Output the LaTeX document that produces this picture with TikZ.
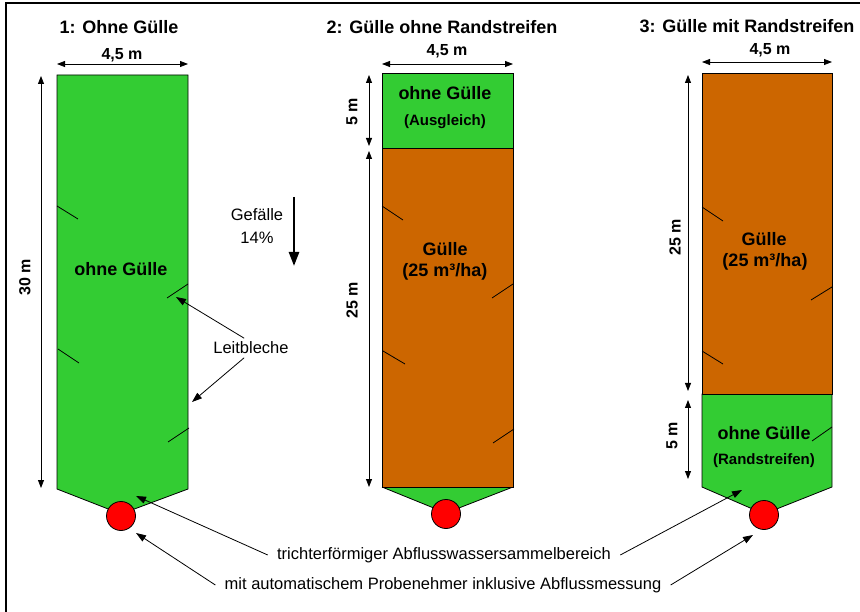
\documentclass[tikz,border=0pt]{standalone}
\usepackage{fontspec}
\setmainfont{Liberation Sans}
\usetikzlibrary{arrows.meta}
\definecolor{wiese}{HTML}{33CC33}
\definecolor{guelle}{HTML}{CC6600}
\definecolor{schacht}{HTML}{FF0000}
\tikzset{
  fett/.style={font=\bfseries\fontsize{18}{21}\selectfont},
  klein/.style={font=\bfseries\fontsize{15}{18}\selectfont},
  mass/.style={font=\bfseries\fontsize{16}{19}\selectfont},
  normal/.style={font=\fontsize{16.5}{23}\selectfont},
}
\begin{document}
\begin{tikzpicture}[x=1pt,y=-1pt,line width=0.8pt]
\useasboundingbox (0,0) rectangle (860,612);
\draw[line width=1.5pt] (6,612) -- (6,3) -- (860,3);
\draw[fill=wiese] (57,75) -- (188,75) -- (188,489) -- (121,514) -- (57,489) -- cycle;
\fill[wiese] (382,487) -- (513,487) -- (446,513) -- cycle;
\draw (382,487) -- (446,513) -- (513,487);
\draw[fill=guelle] (382,148) rectangle (513,487);
\draw[fill=wiese] (382,73) rectangle (513,148);
\draw[fill=wiese] (702,394) -- (832,394) -- (832,487) -- (764,514) -- (702,487) -- cycle;
\draw[fill=guelle] (702,73) rectangle (832,394);
\draw (57,206) -- (78,219);
\draw (188,284) -- (167,298);
\draw (58,349) -- (79,363);
\draw (189,428) -- (168,442);
\draw (382,206) -- (403,220);
\draw (513,284) -- (492,298);
\draw (383,351) -- (405,364);
\draw (514,429) -- (493,443);
\draw (702,207) -- (723,221);
\draw (832,287) -- (811,300);
\draw (702,351) -- (723,364);
\draw (832,427) -- (812,441);
\begin{scope}[every node/.style={circle,draw,fill=schacht,minimum size=29pt,inner sep=0pt}]
	\node (s1) at (121,516) {};
	\node (s2) at (446,514) {};
	\node (s3) at (764,515) {};
\end{scope}
\coordinate (b1l) at (57,64);
\coordinate (b1r) at (188,64);
\coordinate (h1o) at (41,76);
\coordinate (h1u) at (41,488);
\coordinate (b2l) at (382,64);
\coordinate (b2r) at (513,64);
\coordinate (a2o) at (369,75);
\coordinate (a2u) at (369,146);
\coordinate (l2o) at (369,151);
\coordinate (l2u) at (369,487);
\coordinate (b3l) at (702,62);
\coordinate (b3r) at (832,62);
\coordinate (l3o) at (688,75);
\coordinate (l3u) at (688,391);
\coordinate (a3o) at (688,400);
\coordinate (a3u) at (688,479);
\coordinate (gf1) at (294,197);
\coordinate (gf2) at (294,266);
\coordinate (lb1) at (176,297);
\coordinate (lb2) at (192,402);
\coordinate (tr1) at (136,496);
\coordinate (tr3) at (742,490);
\coordinate (pn1) at (136,533);
\coordinate (pn3) at (753,535);
\begin{scope}[every node/.style={fett}]
	\node (t1) at (119,27) {1: Ohne Gülle};
	\node (t2) at (442,27) {2: Gülle ohne Randstreifen};
	\node (t3) at (747,26) {3: Gülle mit Randstreifen};
	\node (o1) at (121,269) {ohne Gülle};
	\node (o2) at (445,93) {ohne Gülle};
	\node (o3) at (764,433) {ohne Gülle};
	\node (g2) at (445,249) {Gülle};
	\node (m2) at (445,272) {(25 m³/ha)};
	\node (g3) at (764,239) {Gülle};
	\node (m3) at (765,262) {(25 m³/ha)};
\end{scope}
\begin{scope}[every node/.style={klein}]
	\node (z2) at (445,122) {(Ausgleich)};
	\node (z3) at (764,461) {(Randstreifen)};
\end{scope}
\begin{scope}[every node/.style={mass}]
	\node (w1) at (122,55) {4,5 m};
	\node (w2) at (447,51) {4,5 m};
	\node (w3) at (770,50) {4,5 m};
	\node[rotate=90] (d1) at (25,277) {30 m};
	\node[rotate=90] (d2a) at (352,112) {5 m};
	\node[rotate=90] (d2b) at (352,300) {25 m};
	\node[rotate=90] (d3a) at (675,237) {25 m};
	\node[rotate=90] (d3b) at (672,436) {5 m};
\end{scope}
\begin{scope}[every node/.style={normal}]
	\node[align=center] (gef) at (257,226) {Gefälle\\14\%};
	\node (lb) at (251,348) {Leitbleche};
	\node[inner xsep=9pt] (tri) at (444,555) {trichterförmiger Abflusswassersammelbereich};
	\node[inner xsep=9pt] (prob) at (443,585) {mit automatischem Probenehmer inklusive Abflussmessung};
\end{scope}
\begin{scope}[>={Triangle[length=8pt,width=6pt]}, every edge/.style={draw=black,line width=0.8pt}]
	\path [<->] (b1l) edge node {} (b1r);
	\path [<->] (h1o) edge node {} (h1u);
	\path [<->] (b2l) edge node {} (b2r);
	\path [<->] (a2o) edge node {} (a2u);
	\path [<->] (l2o) edge node {} (l2u);
	\path [<->] (b3l) edge node {} (b3r);
	\path [<->] (l3o) edge node {} (l3u);
	\path [<->] (a3o) edge node {} (a3u);
\end{scope}
\begin{scope}[>={Triangle[length=10pt,width=7pt]}, every edge/.style={draw=black,line width=0.8pt}]
	\path [->] (lb.125) edge node {} (lb1);
	\path [->] (lb.235) edge node {} (lb2);
	\path [->] (tri.west) edge node {} (tr1);
	\path [->] (tri.east) edge node {} (tr3);
	\path [->] (prob.west) edge node {} (pn1);
	\path [->] (prob.east) edge node {} (pn3);
	\path [->, >={Triangle[length=14pt,width=10pt]}] (gf1) edge[line width=2.5pt] node {} (gf2);
\end{scope}
\end{tikzpicture}
\end{document}
